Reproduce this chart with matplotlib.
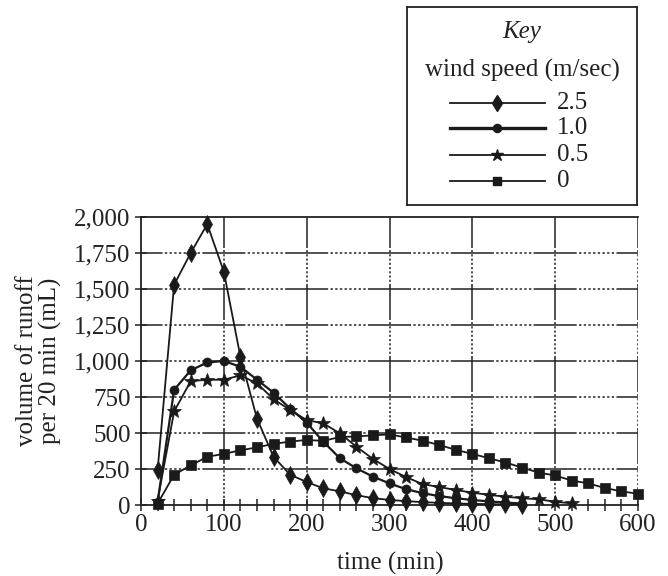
import numpy as np
import matplotlib
matplotlib.use("Agg")
import matplotlib.pyplot as plt
from matplotlib.ticker import FuncFormatter, MultipleLocator

plt.rcParams['font.family'] = ['Liberation Serif', 'DejaVu Serif']
plt.rcParams['lines.scale_dashes'] = False

# time (min) and runoff volume per 20 min (mL)
t_25 = [20, 40, 60, 80, 100, 120, 140, 160, 180, 200, 220, 240, 260, 280, 300,
        320, 340, 360, 380, 400, 420, 440, 460]
v_25 = [240, 1530, 1750, 1950, 1620, 1030, 600, 335, 210, 160, 116, 95, 68, 48, 35,
        27, 20, 15, 11, 8, 6, 4, 3]

t_10 = [20, 40, 60, 80, 100, 120, 140, 160, 180, 200, 220, 240, 260, 280, 300,
        320, 340, 360, 380, 400, 420, 440, 460]
v_10 = [20, 800, 935, 990, 1000, 960, 870, 780, 670, 572, 440, 325, 255, 197, 150,
        110, 82, 62, 47, 35, 25, 17, 10]

t_05 = [20, 40, 60, 80, 100, 120, 140, 160, 180, 200, 220, 240, 260, 280, 300,
        320, 340, 360, 380, 400, 420, 440, 460, 480, 500, 520]
v_05 = [30, 650, 860, 870, 870, 900, 845, 735, 660, 590, 567, 498, 405, 320, 250,
        194, 145, 125, 104, 86, 70, 58, 47, 40, 22, 12]

t_00 = [20, 40, 60, 80, 100, 120, 140, 160, 180, 200, 220, 240, 260, 280, 300,
        320, 340, 360, 380, 400, 420, 440, 460, 480, 500, 520, 540, 560, 580, 600]
v_00 = [10, 210, 275, 335, 355, 380, 400, 425, 440, 452, 445, 472, 476, 484, 490,
        469, 446, 417, 383, 355, 325, 295, 260, 225, 205, 170, 150, 118, 95, 78]

labels = ['2.5', '1.0', '0.5', '0']

series = [
    (t_25, v_25, 'd', 9, 1.3),
    (t_10, v_10, 'o', 6.5, 1.6),
    (t_05, v_05, '*', 10, 1.3),
    (t_00, v_00, 's', 7, 1.3),
]

W, H = 668, 576
fig = plt.figure(figsize=(W / 100, H / 100), dpi=100)
ax = fig.add_axes([141 / W, 71 / H, 497 / W, 288 / H])

# printed grid: solid around the crossings on the horizontals, dotted in between;
# the verticals alternate solid / dotted every half a 500 mL step
px_per_pt = 100 / 72
xunit = 497 / 600 / px_per_pt      # pt per minute
yunit = 288 / 2000 / px_per_pt     # pt per mL

hper = 100 * xunit
hsolid = 0.52 * hper
hg = (hper - hsolid) / 17
hdash = [hsolid] + [hg, hg] * 8 + [hg]
for yv in range(250, 2000, 250):
    ln, = ax.plot([0, 600], [yv, yv], color='#222222', lw=1.1, zorder=1)
    ln.set_linestyle((hsolid / 2, hdash))

vper = 500 * yunit
vsolid = 0.5 * vper
vg = (vper - vsolid) / 17
vdash = [vsolid] + [vg, vg] * 8 + [vg]
for xv in range(100, 601, 100):
    ln, = ax.plot([xv, xv], [0, 2000], color='#222222', lw=1.1, zorder=1)
    ln.set_linestyle((215 * yunit, vdash))

for tt, vv, mk, ms, lw in series:
    ax.plot(tt, vv, color='#1a1a1a', lw=lw, marker=mk, markersize=ms,
            markeredgewidth=0.5, zorder=3, clip_on=False)

ax.set_xlim(0, 600)
ax.set_ylim(0, 2000)
ax.xaxis.set_major_locator(MultipleLocator(100))
ax.xaxis.set_minor_locator(MultipleLocator(20))
ax.yaxis.set_major_locator(MultipleLocator(250))
ax.yaxis.set_major_formatter(FuncFormatter(lambda v, p: f'{int(v):,}'))
ax.tick_params(axis='both', which='both', direction='inout', length=9,
               width=1.1, labelsize=18, colors='#222222', pad=2)
ax.tick_params(axis='y', pad=3)
ax.spines['right'].set_visible(False)
for s in ['left', 'bottom', 'top']:
    ax.spines[s].set_linewidth(1.3)
    ax.spines[s].set_color('#222222')

fig.text(39 / W, 1 - 361 / H, 'volume of runoff\nper 20 min (mL)', rotation=90,
         ha='center', va='center', fontsize=18, color='#222222', linespacing=1.0)
fig.text(390 / W, 1 - 563 / H, 'time (min)', ha='center', va='center',
         fontsize=18, color='#222222')

# key box
kx0, ky0, kx1, ky1 = 407, 7, 637, 205
kax = fig.add_axes([kx0 / W, 1 - ky1 / H, (kx1 - kx0) / W, (ky1 - ky0) / H])
kax.set_xlim(kx0, kx1)
kax.set_ylim(ky1, ky0)
kax.set_xticks([])
kax.set_yticks([])
for s in kax.spines.values():
    s.set_linewidth(1.3)
    s.set_color('#222222')
kax.text(522, 32, 'Key', style='italic', ha='center', va='center', fontsize=18,
         color='#222222')
kax.text(522, 70, 'wind speed (m/sec)', ha='center', va='center', fontsize=18,
         color='#222222')
rows = [103, 128, 155, 181]
for (tt, vv, mk, ms, lw), lab, ry in zip(series, labels, rows):
    kax.plot([450, 545], [ry, ry], color='#1a1a1a', lw=lw + (0.8 if mk == 'o' else 0))
    kax.plot([497], [ry], color='#1a1a1a', marker=mk, markersize=ms * 0.9)
    kax.text(557, ry, lab, ha='left', va='center', fontsize=18, color='#222222')

fig.savefig('out.png', dpi=100)
